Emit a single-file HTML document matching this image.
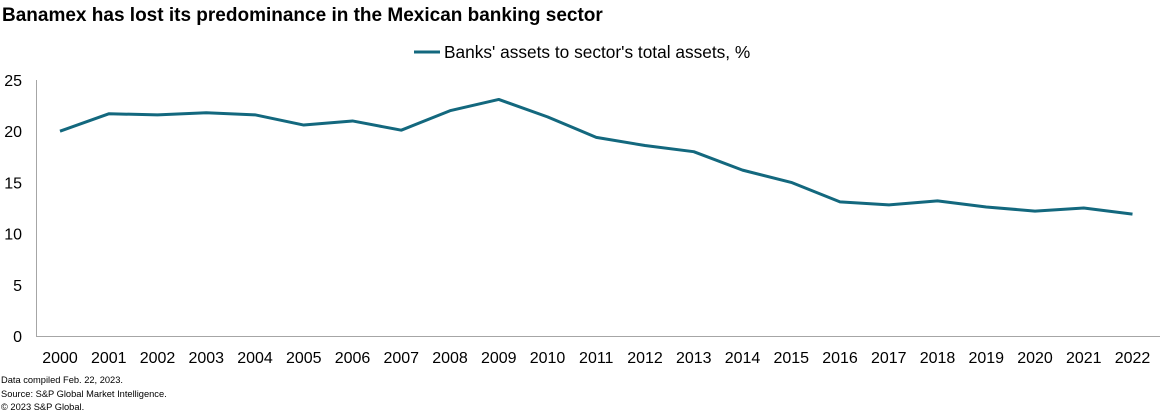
<!DOCTYPE html>
<html><head><meta charset="utf-8"><style>
body{margin:0;background:#fff;font-family:"Liberation Sans",Arial,sans-serif}
</style></head><body>
<svg width="1162" height="413" xmlns="http://www.w3.org/2000/svg" font-family="Liberation Sans, Arial, sans-serif">
<text x="2" y="21" font-size="19" font-weight="bold" fill="#000">Banamex has lost its predominance in the Mexican banking sector</text>
<g>
<line x1="414" y1="52" x2="440" y2="52" stroke="#13687e" stroke-width="3"/>
<text x="444" y="58" font-size="17.3" fill="#000">Banks' assets to sector's total assets, %</text>
</g>
<line x1="36.5" y1="80" x2="36.5" y2="336" stroke="#a6a6a6"/>
<line x1="36" y1="336.5" x2="1160" y2="336.5" stroke="#a6a6a6"/>
<g id="yt"></g><g id="xt"></g>
<path id="ln" fill="none" stroke="#13687e" stroke-width="3" stroke-linejoin="round"/>
<text x="1" y="383" font-size="9.3" fill="#000">Data compiled Feb. 22, 2023.</text>
<text x="1" y="397" font-size="9.3" fill="#000">Source: S&amp;P Global Market Intelligence.</text>
<text x="1" y="410" font-size="9.3" fill="#000">© 2023 S&amp;P Global.</text>
</svg>
<script>
const years=["2000","2001","2002","2003","2004","2005","2006","2007","2008","2009","2010","2011","2012","2013","2014","2015","2016","2017","2018","2019","2020","2021","2022"];
const values=[20.0,21.7,21.6,21.8,21.6,20.6,21.0,20.1,22.0,23.1,21.4,19.4,18.6,18.0,16.2,15.0,13.1,12.8,13.2,12.6,12.2,12.5,11.9];
const yTicks=[0,5,10,15,20,25];
const NS="http://www.w3.org/2000/svg";
const X=i=>60+i*48.75, Y=v=>336-v*10.24;
const yt=document.getElementById('yt'), xt=document.getElementById('xt');
yTicks.forEach(t=>{const e=document.createElementNS(NS,'text');
e.setAttribute('x',22);e.setAttribute('y',Y(t)+6);e.setAttribute('text-anchor','end');e.setAttribute('font-size','16');e.textContent=t;


yt.appendChild(e);});
years.forEach((y,i)=>{const e=document.createElementNS(NS,'text');
e.setAttribute('x',X(i));e.setAttribute('y',363);e.setAttribute('text-anchor','middle');e.setAttribute('font-size','16');e.textContent=y;


xt.appendChild(e);});
document.getElementById('ln').setAttribute('d',values.map((v,i)=>(i?'L':'M')+X(i)+','+Y(v)).join(''));
</script>
</body></html>
